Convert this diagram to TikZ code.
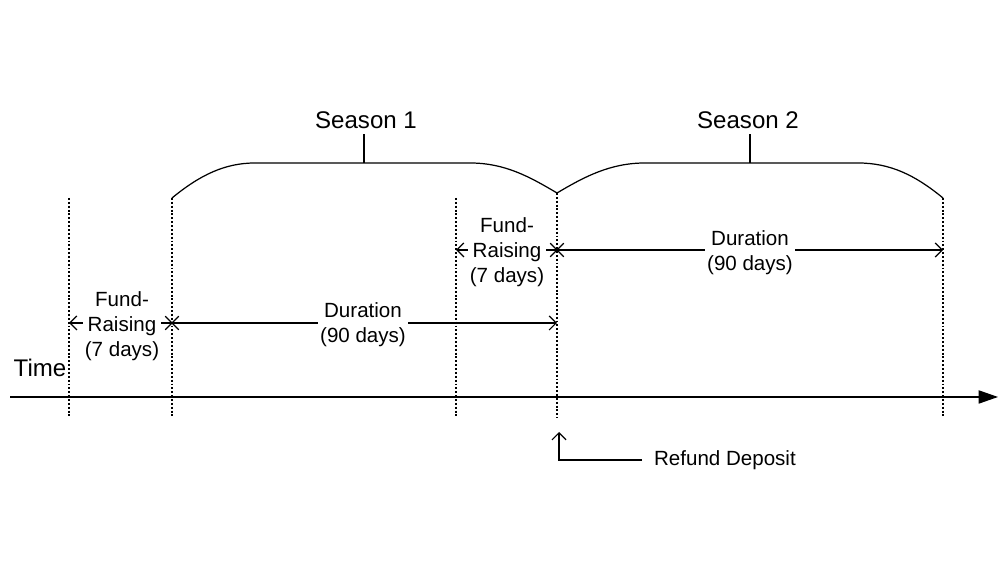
\documentclass[tikz,border=0pt]{standalone}
\usepackage{fontspec}
\setmainfont{Liberation Sans}
\usetikzlibrary{arrows.meta, shapes.misc}
\tikzstyle{txt} = [fill = white, inner sep = 1pt, align = center, font = \fontsize{11.7}{14.2}\selectfont]
\tikzstyle{big} = [inner sep = 3pt, font = \fontsize{13.7}{16}\selectfont]
\tikzstyle{guide} = [line width = 0.9pt, dash pattern = on 1.1pt off 1.1pt]
\tikzstyle{span} = [line width = 0.7pt, -{Straight Barb[length = 4pt, width = 8pt]}]
\tikzstyle{axis} = [line width = 0.7pt, -{Triangle[length = 11pt, width = 7.5pt]}]
\tikzstyle{cross} = [cross out, draw, minimum size = 7pt, inner sep = 0pt, line width = 0.7pt]
\tikzstyle{brace} = [line width = 0.7pt]

\begin{document}
\begin{tikzpicture}[x = 0.02cm, y = 0.02cm]
	\useasboundingbox (0,0) rectangle (1000,580);

	% dotted guides
	\foreach \n/\x/\y in {a/69/382, b/172/382, c/456/382, d/557/387, e/943/382} {
		\coordinate (\n-top) at (\x,\y);
		\coordinate (\n-bot) at (\x,162);
		\draw [guide] (\n-top) -- (\n-bot);
	}

	% time axis
	\coordinate (t0) at (10,183);
	\coordinate (t1) at (998,183);
	\draw [axis] (t0) -- (t1);
	\node (time)[big] at (40,212) {Time};

	% spans
	\coordinate (fr1) at (69,257);
	\coordinate (du1) at (557,257);
	\coordinate (fr2) at (456,330);
	\coordinate (du2) at (943,330);
	\node (x1)[cross] at (172,257) {};
	\node (x2)[cross] at (557,330) {};
	\draw [span] (x1.center) -- (fr1);
	\draw [span] (x1.center) -- (du1);
	\draw [span] (x2.center) -- (fr2);
	\draw [span] (x2.center) -- (du2);
	\node (fund1)[txt] at (122,254) {Fund-\\Raising\\(7 days)};
	\node (dur1)[txt] at (363,255) {Duration\\(90 days)};
	\node (fund2)[txt] at (507,328) {Fund-\\Raising\\(7 days)};
	\node (dur2)[txt] at (750,327) {Duration\\(90 days)};

	% seasons
	\coordinate (b1) at (364,417);
	\coordinate (b2) at (750,417);
	\draw [brace] (b-top) .. controls (200,405) and (225,417) .. (255,417) -- (470,417)
		.. controls (505,417) and (530,403) .. (d-top)
		.. controls (584,403) and (610,417) .. (645,417) -- (858,417)
		.. controls (890,417) and (915,405) .. (e-top);
	\node (season1)[big, anchor = south] at (366,446) {Season 1};
	\node (season2)[big, anchor = south] at (748,446) {Season 2};
	\draw [brace] (b1) -- (b1 |- season1.south);
	\draw [brace] (b2) -- (b2 |- season2.south);

	% refund
	\coordinate (dep) at (559,148);
	\coordinate (corner) at (642,120);
	\node (refund)[txt, anchor = west] at (652,120) {Refund Deposit};
	\draw [span] (corner) -| (dep);
\end{tikzpicture}
\end{document}
